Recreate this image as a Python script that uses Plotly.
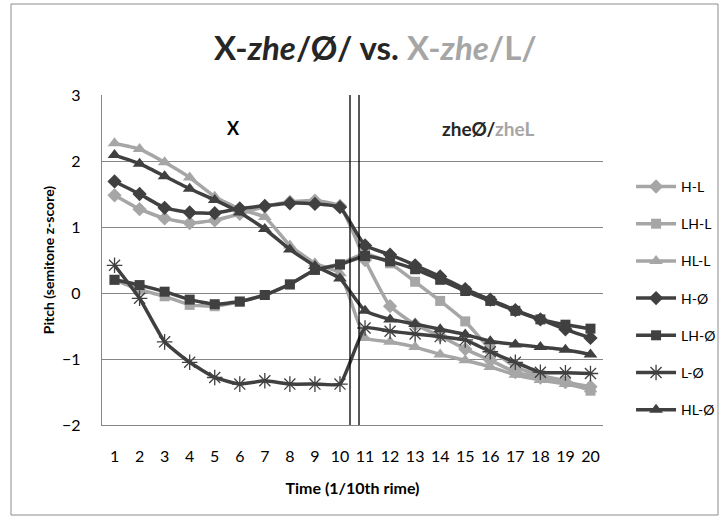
import plotly.graph_objects as go

# Time points (tenths of the rime)
time = list(range(1, 21))

# Pitch contours (semitone z-score), X-zhe/L/ series
h_l = [1.48, 1.27, 1.13, 1.06, 1.10, 1.20, 1.31, 1.38, 1.40, 1.32,
       0.50, -0.20, -0.48, -0.65, -0.85, -1.02, -1.20, -1.28, -1.35, -1.42]
lh_l = [0.20, 0.05, -0.05, -0.18, -0.20, -0.13, -0.03, 0.13, 0.35, 0.44,
        0.60, 0.45, 0.17, -0.12, -0.43, -0.85, -1.12, -1.25, -1.33, -1.48]
hl_l = [2.27, 2.18, 1.98, 1.75, 1.46, 1.27, 1.15, 0.72, 0.45, 0.30,
        -0.68, -0.74, -0.82, -0.93, -1.02, -1.12, -1.24, -1.32, -1.38, -1.46]

# X-zhe/Ø/ series
h_o = [1.69, 1.50, 1.29, 1.22, 1.21, 1.28, 1.32, 1.36, 1.35, 1.30,
       0.72, 0.58, 0.42, 0.25, 0.06, -0.10, -0.26, -0.40, -0.55, -0.68]
lh_o = [0.20, 0.12, 0.02, -0.10, -0.17, -0.13, -0.03, 0.13, 0.35, 0.43,
        0.56, 0.48, 0.36, 0.20, 0.03, -0.12, -0.27, -0.40, -0.48, -0.54]
l_o = [0.42, -0.08, -0.74, -1.05, -1.28, -1.38, -1.33, -1.38, -1.38, -1.38,
       -0.53, -0.58, -0.62, -0.66, -0.71, -0.89, -1.05, -1.20, -1.21, -1.22]
hl_o = [2.09, 1.96, 1.77, 1.58, 1.41, 1.22, 0.97, 0.66, 0.41, 0.22,
        -0.27, -0.40, -0.47, -0.55, -0.63, -0.73, -0.78, -0.82, -0.86, -0.93]

LIGHT = "#A6A6A6"
DARK = "#404040"
FONT = "Lato"

series = [
    ("H-L", h_l, LIGHT, "diamond", 11),
    ("LH-L", lh_l, LIGHT, "square", 10),
    ("HL-L", hl_l, LIGHT, "triangle-up", 12),
    ("H-Ø", h_o, DARK, "diamond", 11),
    ("LH-Ø", lh_o, DARK, "square", 10),
    ("L-Ø", l_o, DARK, "asterisk-open", 13),
    ("HL-Ø", hl_o, DARK, "triangle-up", 12),
]

fig = go.Figure()
for name, vals, col, sym, sz in series:
    marker = dict(symbol=sym, size=sz, color=col)
    if sym.endswith("open"):
        marker["line"] = dict(color=col, width=1.3)
    else:
        marker["line"] = dict(width=0)
    fig.add_trace(go.Scatter(
        x=time, y=vals, name=name, mode="lines+markers",
        line=dict(color=col, width=3.5, shape="spline", smoothing=0.4),
        marker=marker, legendgroup=name,
    ))

# divider between the X syllable and the zhe syllable
for xv in (10.4, 10.76):
    fig.add_shape(type="line", xref="x", yref="paper", x0=xv, x1=xv, y0=0, y1=1,
                  line=dict(color="black", width=1.3), layer="above")

# chart frame
fig.add_shape(type="rect", xref="paper", yref="paper",
              x0=(11 - 102) / 501, x1=(718 - 102) / 501,
              y0=(425 - 515) / 330, y1=(425 - 4) / 330,
              line=dict(color="#8C8C8C", width=1))

fig.add_annotation(x=5.74, y=2.5, xref="x", yref="y", text="<b>X</b>",
                   showarrow=False, font=dict(family=FONT, size=18, color="black"))
fig.add_annotation(x=15.9, y=2.5, xref="x", yref="y",
                   text="<b>zheØ/<span style='color:#A6A6A6'>zheL</span></b>",
                   showarrow=False, font=dict(family=FONT, size=19, color="#262626"))

# title
fig.add_annotation(xref="paper", yref="paper", x=(375 - 102) / 501, y=(425 - 47) / 330,
                   xanchor="center", yanchor="middle",
                   text="<b>X-<i>zhe</i>/Ø/ vs. <span style='color:#A6A6A6'>X-<i>zhe</i>/L/</span></b>",
                   showarrow=False, font=dict(family=FONT, size=33, color="#262626"))

fig.update_layout(
    width=727, height=519,
    margin=dict(l=102, r=124, t=95, b=94, autoexpand=False),
    paper_bgcolor="white", plot_bgcolor="white",
    font=dict(family=FONT, size=14, color="black"),
    showlegend=True,
    legend=dict(x=1.056, y=0.77, xanchor="left", yanchor="top",
                font=dict(family=FONT, size=14, color="black"),
                itemwidth=40,
                tracegroupgap=16, bgcolor="rgba(0,0,0,0)"),
    xaxis=dict(range=[0.5, 20.5], tickmode="array", tickvals=time,
               ticktext=[str(t) for t in time], showgrid=False,
               showline=True, linecolor="#868686", linewidth=1.3,
               ticks="", ticklabelstandoff=17, zeroline=False,
               tickfont=dict(family=FONT, size=16, color="black"),
               title=dict(text="<b>Time (1/10th rime)</b>", standoff=18,
                          font=dict(family=FONT, size=16, color="black"))),
    yaxis=dict(range=[-2, 3], tickmode="array", tickvals=[-2, -1, 0, 1, 2, 3],
               showgrid=True, gridcolor="#868686", gridwidth=1,
               showline=True, linecolor="#868686", linewidth=1.3,
               zeroline=False, ticks="", ticklabelstandoff=17,
               tickfont=dict(family=FONT, size=16, color="black"),
               title=dict(text="<b>Pitch (semitone z-score)</b>", standoff=4,
                          font=dict(family=FONT, size=14, color="black"))),
)

fig.write_html("out.html")
